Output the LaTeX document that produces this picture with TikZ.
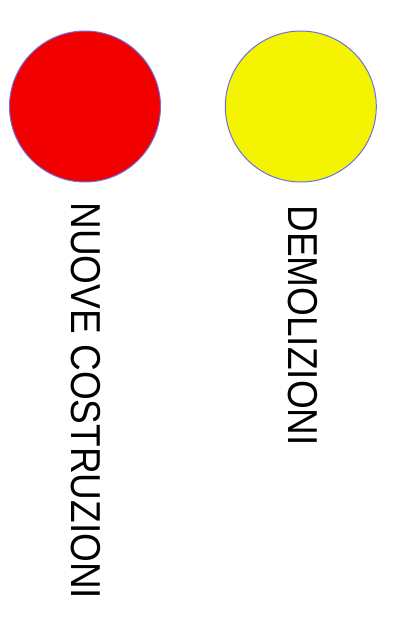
\documentclass[tikz,border=0pt]{standalone}
\usepackage{fontspec}
\setmainfont{Liberation Sans}
\usepackage{graphicx}
\definecolor{redfill}{RGB}{242,0,0}
\definecolor{yellowfill}{RGB}{244,244,0}
\definecolor{rim}{RGB}{110,110,230}
\begin{document}
\begin{tikzpicture}[x=1pt,y=-1pt,
  disc/.style={circle,draw=rim,line width=1pt,minimum size=151pt,inner sep=0pt},
  vlabel/.style={rotate=-90,anchor=base west,inner sep=0pt,font=\fontsize{37}{44}\selectfont}]
\useasboundingbox (0,0) rectangle (413,630);
\node[disc,fill=redfill] (red) at (85,106.5) {};
\node[disc,fill=yellowfill] (yellow) at (300.8,106.5) {};
\node[vlabel] (nuove) at (71.7,202.3) {\scalebox{1}[1.13]{NUOVE COSTRUZIONI}};
\node[vlabel] (demol) at (288.3,205.2) {\scalebox{1}[1.13]{DEMOLIZIONI}};
\end{tikzpicture}
\end{document}
